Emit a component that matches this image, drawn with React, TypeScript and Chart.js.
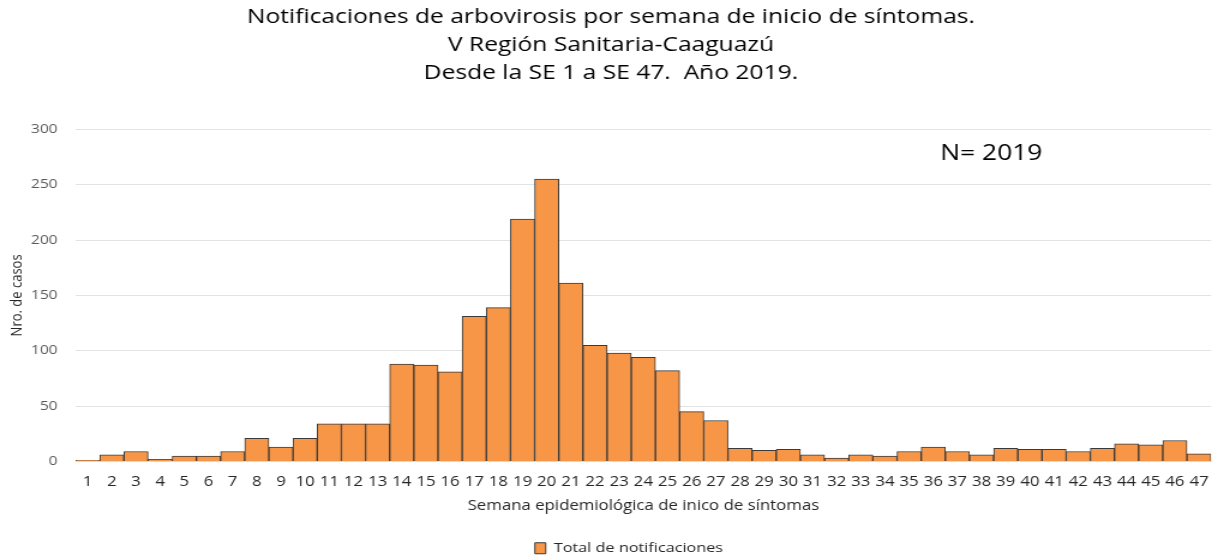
import React, { useEffect, useRef } from "react";
import { Chart, registerables } from "chart.js";

Chart.register(...registerables);

const titleLines = [
  "Notificaciones de arbovirosis por semana de inicio de síntomas.",
  "V Región Sanitaria-Caaguazú",
  "Desde la SE 1 a SE 47.  Año 2019.",
];

const weeks = [
  "1", "2", "3", "4", "5", "6", "7", "8", "9", "10",
  "11", "12", "13", "14", "15", "16", "17", "18", "19", "20",
  "21", "22", "23", "24", "25", "26", "27", "28", "29", "30",
  "31", "32", "33", "34", "35", "36", "37", "38", "39", "40",
  "41", "42", "43", "44", "45", "46", "47",
];

const totalNotificaciones = [
  1, 6, 9, 2, 5, 5, 9, 21, 13, 21,
  34, 34, 34, 88, 87, 81, 131, 139, 219, 255,
  161, 105, 98, 94, 82, 45, 37, 12, 10, 11,
  6, 3, 6, 5, 9, 13, 9, 6, 12, 11,
  11, 9, 12, 16, 15, 19, 7,
];

const seriesName = "Total de notificaciones";
const xTitle = "Semana epidemiológica de inico de síntomas";
const yTitle = "Nro. de casos";
const annotationText = "N= 2019";
const annotationAt = { x: 37.4, y: 278 };

const FONT = "'Open Sans', 'Noto Sans', sans-serif";
// The reference picture is stretched horizontally; the chart is drawn on a
// narrower canvas and widened by the same factor.
const STRETCH = 1.2;
const OUT_W = 1223;
const OUT_H = 558;
const LEGEND_SHIFT = 15;

const annotationPlugin = {
  id: "nAnnotation",
  afterLayout(chart: any) {
    const lg = chart.legend;
    if (lg) {
      lg.left += LEGEND_SHIFT;
      lg.right += LEGEND_SHIFT;
    }
  },
  afterDatasetsDraw(chart: any) {
    const { ctx, scales } = chart;
    const x = scales.x.getPixelForValue(annotationAt.x);
    const y = scales.y.getPixelForValue(annotationAt.y);
    ctx.save();
    ctx.font = `22px ${FONT}`;
    ctx.fillStyle = "#000000";
    ctx.textAlign = "center";
    ctx.textBaseline = "middle";
    ctx.fillText(annotationText, x, y);
    ctx.restore();
  },
};

export default function App() {
  const canvasRef = useRef<HTMLCanvasElement | null>(null);

  useEffect(() => {
    if (!canvasRef.current) return;
    const chart = new Chart(canvasRef.current, {
      type: "bar",
      data: {
        labels: weeks,
        datasets: [
          {
            label: seriesName,
            data: totalNotificaciones,
            backgroundColor: "#F79646",
            borderColor: "#3a3a3a",
            borderWidth: 1,
            categoryPercentage: 1,
            barPercentage: 1,
          },
        ],
      },
      options: {
        animation: false,
        responsive: true,
        maintainAspectRatio: false,
        layout: { padding: { left: 0, right: 1, top: 0, bottom: -7 } },
        plugins: {
          title: {
            display: true,
            text: titleLines,
            color: "#000000",
            font: { family: FONT, size: 20.5, weight: "500", lineHeight: 1.37 },
            padding: { top: 3, bottom: 42 },
          },
          legend: {
            position: "bottom",
            labels: {
              boxWidth: 9,
              boxHeight: 11,
              color: "#262626",
              font: { family: FONT, size: 13.5 },
              padding: 4,
            },
          },
          tooltip: { enabled: false },
        },
        scales: {
          x: {
            afterFit(scale: any) {
              scale.height = 76;
            },
            grid: { display: false, drawTicks: false },
            border: { display: true, color: "#d9d9d9", width: 1 },
            ticks: {
              color: "#262626",
              font: { family: FONT, size: 14 },
              maxRotation: 0,
              autoSkip: false,
              padding: 12,
            },
            title: {
              display: true,
              text: xTitle,
              color: "#262626",
              font: { family: FONT, size: 14 },
              padding: { top: 0, bottom: 23 },
            },
          },
          y: {
            min: 0,
            max: 300,
            afterFit(scale: any) {
              scale.width = 63;
            },
            ticks: {
              stepSize: 50,
              color: "#595959",
              font: { family: FONT, size: 13 },
              padding: 15,
            },
            grid: { color: "#e3e3e3", drawTicks: false },
            border: { display: false },
            title: {
              display: true,
              text: yTitle,
              color: "#262626",
              font: { family: FONT, size: 13 },
              padding: { top: 6, bottom: 0 },
            },
          },
        },
      },
      plugins: [annotationPlugin],
    });
    return () => chart.destroy();
  }, []);

  return (
    <div style={{ position: "fixed", left: 0, top: 0, width: OUT_W, height: OUT_H, background: "#ffffff", overflow: "hidden" }}>
      <div
        style={{
          position: "absolute",
          left: 0,
          top: 0,
          width: OUT_W / STRETCH,
          height: OUT_H,
          transform: `scaleX(${STRETCH})`,
          transformOrigin: "0 0",
        }}
      >
        <canvas ref={canvasRef} />
      </div>
    </div>
  );
}
